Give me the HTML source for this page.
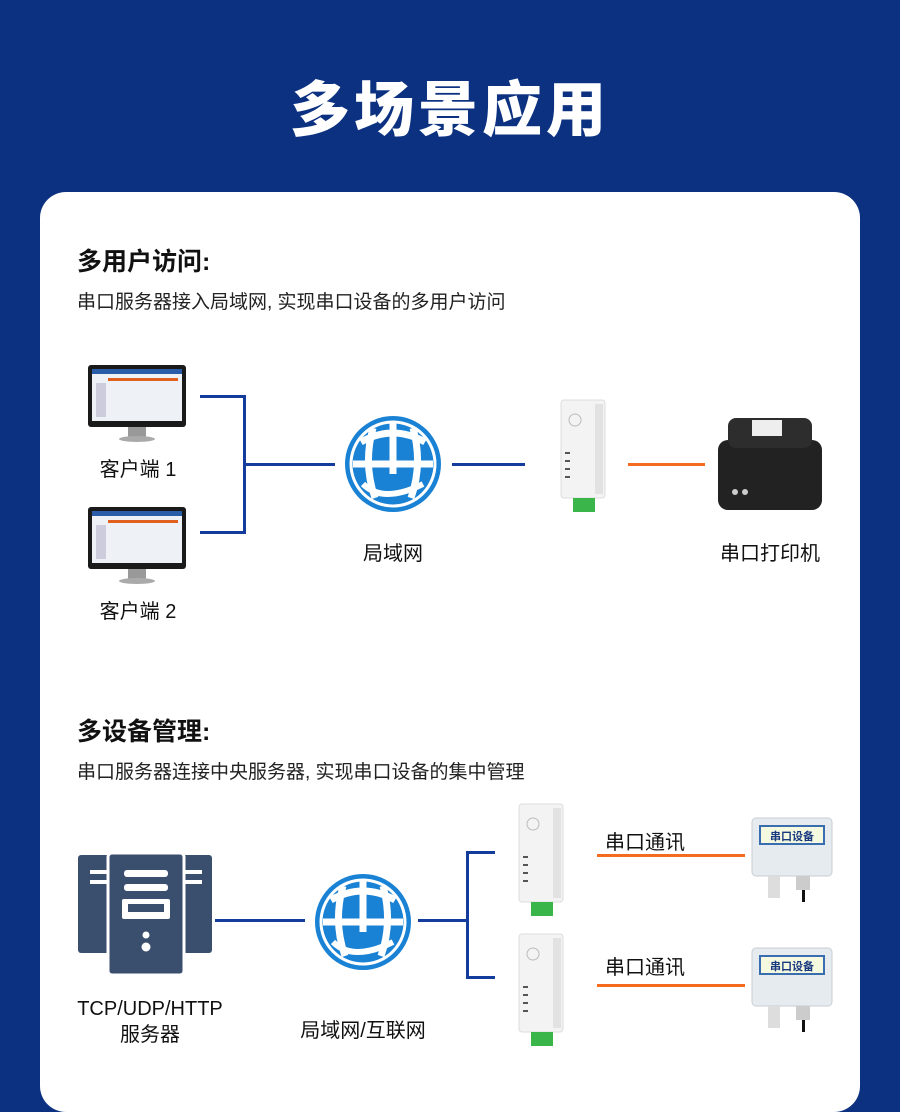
<!DOCTYPE html>
<html><head><meta charset="utf-8"><style>
*{margin:0;padding:0;box-sizing:border-box}
body{width:900px;height:1084px;background:#0b3180;position:relative;overflow:hidden;font-family:"Liberation Sans","Noto Sans CJK SC",sans-serif;color:#222}
.a{position:absolute}
h1{position:absolute;top:62px;left:0;width:900px;text-align:center;color:#fff;font-size:60px;font-weight:900;letter-spacing:4px}
.card{position:absolute;left:40px;top:192px;width:820px;height:920px;background:#fff;border-radius:26px}
.t{font-size:25px;font-weight:700;color:#111}
.s{font-size:19px;color:#222}
.l{font-size:20px;color:#111;text-align:center}
.ln{position:absolute;background:#143c9c}
.or{position:absolute;background:#f46a1e;height:3px}
</style></head><body>
<h1>多场景应用</h1>
<div class="card"></div>
<div class="a t" style="left:77px;top:242px">多用户访问:</div>
<div class="a s" style="left:77px;top:287px">串口服务器接入局域网, 实现串口设备的多用户访问</div>
<div class="a t" style="left:77px;top:712px">多设备管理:</div>
<div class="a s" style="left:77px;top:757px">串口服务器连接中央服务器, 实现串口设备的集中管理</div>

<svg class="a" style="left:0;top:0" width="900" height="1084">
<defs>
<g id="mon"><rect x="0" y="0" width="98" height="62" rx="3" fill="#1a1a1a"/><rect x="4" y="4" width="90" height="52" fill="#eef2f6"/><rect x="4" y="4" width="90" height="5" fill="#2a5da8"/><rect x="20" y="13" width="70" height="3" fill="#e2601e"/><rect x="8" y="18" width="10" height="34" fill="#ccd"/><rect x="40" y="62" width="18" height="10" fill="#999"/><ellipse cx="49" cy="74" rx="18" ry="3" fill="#aaa"/></g>
<g id="globe"><circle cx="0" cy="0" r="48" fill="#1a82d4"/><circle cx="0" cy="0" r="42" fill="none" stroke="#fff" stroke-width="3"/><path d="M-32 -22 Q0 -40 32 -22 M-40 0 H40 M0 -42 V10 M-20 -36 Q-30 0 -18 34 M20 -36 Q30 0 18 34" stroke="#fff" stroke-width="7" fill="none"/><path d="M-30 20 Q-10 40 30 20" stroke="#fff" stroke-width="6" fill="none"/></g>
<g id="dev"><rect x="0" y="0" width="44" height="98" rx="3" fill="#f3f3f3" stroke="#ddd"/><rect x="34" y="4" width="8" height="90" fill="#e2e2e2"/><circle cx="14" cy="20" r="6" fill="none" stroke="#bbb"/><rect x="4" y="52" width="5" height="2" fill="#555"/><rect x="4" y="60" width="5" height="2" fill="#555"/><rect x="4" y="68" width="5" height="2" fill="#555"/><rect x="4" y="76" width="5" height="2" fill="#555"/><rect x="12" y="98" width="22" height="14" fill="#3ab54a"/></g>
<g id="sen"><rect x="0" y="0" width="80" height="58" rx="4" fill="#e6ebef" stroke="#c8ced4"/><rect x="8" y="8" width="64" height="18" fill="#f4f9e0" stroke="#3a6cb0" stroke-width="2"/><text x="40" y="22" font-size="11" font-weight="700" text-anchor="middle" fill="#1a3a80" font-family="Liberation Sans,Noto Sans CJK SC,sans-serif">串口设备</text><rect x="16" y="58" width="12" height="22" fill="#ddd"/><rect x="44" y="58" width="14" height="14" fill="#ccc"/><rect x="50" y="72" width="3" height="12" fill="#111"/></g>
</defs>
<use href="#mon" x="88" y="365"/><use href="#mon" x="88" y="507"/>
<use href="#globe" x="393" y="464"/>
<use href="#dev" x="561" y="400"/>
<rect x="718" y="440" width="104" height="70" rx="10" fill="#222"/><rect x="728" y="418" width="84" height="30" rx="8" fill="#2d2d2d"/><rect x="752" y="420" width="30" height="16" fill="#eee"/><circle cx="735" cy="492" r="3" fill="#ccc"/><circle cx="745" cy="492" r="3" fill="#ccc"/>
<g fill="#3a4e6e"><rect x="78" y="855" width="42" height="98" rx="3"/><rect x="170" y="855" width="42" height="98" rx="3"/><rect x="108" y="853" width="76" height="122" rx="4" stroke="#fff" stroke-width="3"/></g>
<g fill="#fff"><rect x="124" y="870" width="44" height="7" rx="3"/><rect x="124" y="884" width="44" height="7" rx="3"/><rect x="122" y="899" width="48" height="20" rx="2"/><circle cx="146" cy="935" r="3.5"/><circle cx="146" cy="947" r="4.5"/><rect x="90" y="870" width="18" height="4"/><rect x="90" y="880" width="18" height="4"/><rect x="184" y="870" width="18" height="4"/><rect x="184" y="880" width="18" height="4"/></g>
<rect x="128" y="904" width="36" height="8" fill="#3a4e6e"/>
<use href="#globe" x="363" y="922"/>
<use href="#dev" x="519" y="804"/><use href="#dev" x="519" y="934"/>
<use href="#sen" x="752" y="818"/><use href="#sen" x="752" y="948"/>
</svg>
<div class="ln" style="left:200px;top:395px;width:46px;height:3px"></div>
<div class="ln" style="left:200px;top:531px;width:46px;height:3px"></div>
<div class="ln" style="left:243px;top:395px;width:3px;height:139px"></div>
<div class="ln" style="left:243px;top:463px;width:92px;height:3px"></div>
<div class="ln" style="left:452px;top:463px;width:73px;height:3px"></div>
<div class="or" style="left:628px;top:463px;width:77px"></div>
<div class="ln" style="left:215px;top:919px;width:90px;height:3px"></div>
<div class="ln" style="left:418px;top:919px;width:50px;height:3px"></div>
<div class="ln" style="left:466px;top:851px;width:3px;height:128px"></div>
<div class="ln" style="left:466px;top:851px;width:29px;height:3px"></div>
<div class="ln" style="left:466px;top:976px;width:29px;height:3px"></div>
<div class="or" style="left:597px;top:854px;width:148px"></div>
<div class="or" style="left:597px;top:984px;width:148px"></div>
<div class="a l" style="left:78px;top:453px;width:120px">客户端 1</div>
<div class="a l" style="left:78px;top:595px;width:120px">客户端 2</div>
<div class="a l" style="left:333px;top:537px;width:120px">局域网</div>
<div class="a l" style="left:700px;top:537px;width:140px">串口打印机</div>
<div class="a l" style="left:585px;top:826px;width:120px">串口通讯</div>
<div class="a l" style="left:585px;top:951px;width:120px">串口通讯</div>
<div class="a l" style="left:50px;top:996px;width:200px;line-height:26px">TCP/UDP/HTTP<br>服务器</div>
<div class="a l" style="left:283px;top:1014px;width:160px">局域网/互联网</div>
</body></html>
